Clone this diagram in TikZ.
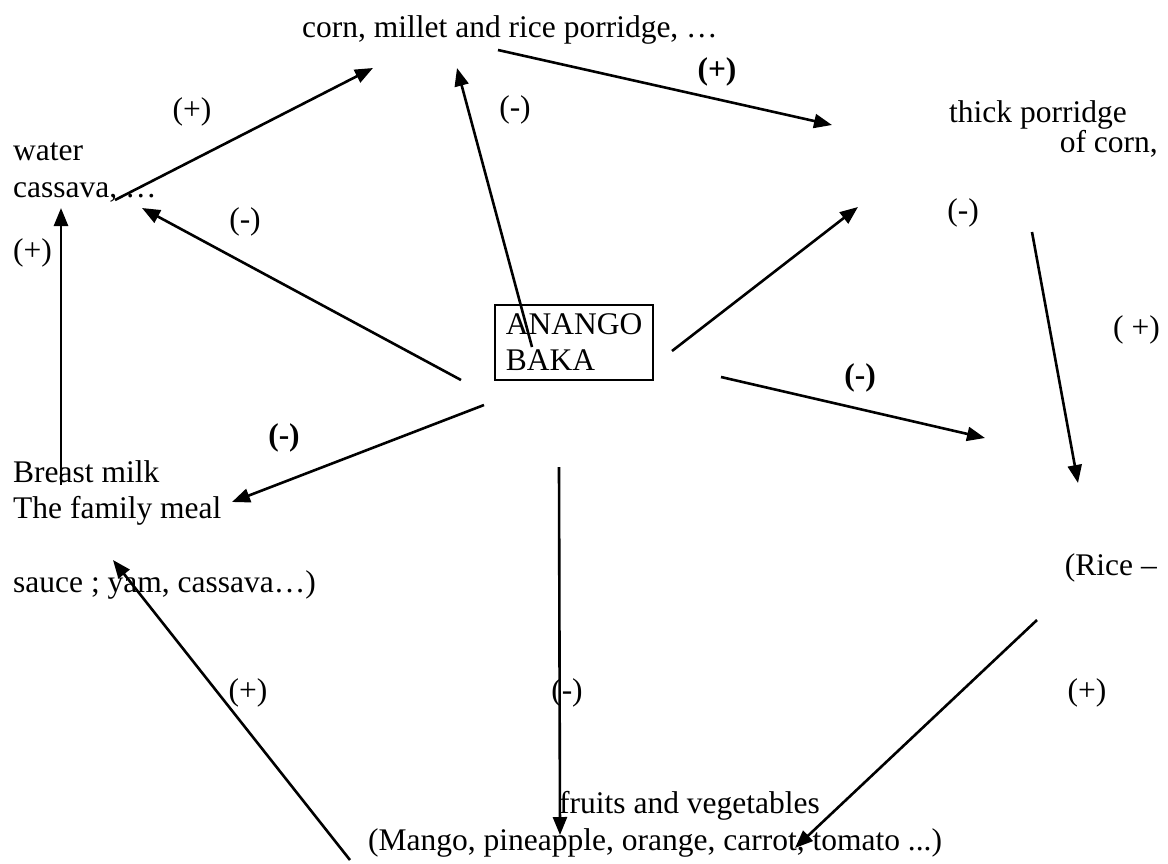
\documentclass[tikz,border=0pt]{standalone}
\usepackage{fontspec}
\setmainfont{Liberation Serif}
\usetikzlibrary{arrows.meta}

\begin{document}
\begin{tikzpicture}[x=1pt,y=-1pt,
    every node/.style={inner sep=0pt,font=\fontsize{31.5}{36}\selectfont},
    txt/.style={anchor=base west},
    txtr/.style={anchor=base east},
    sgnb/.style={font=\fontsize{31.5}{36}\selectfont\bfseries},
    arr/.style={line width=2.6pt,-{Triangle[length=18pt,width=14pt]}}]
       \useasboundingbox(0,0)rectangle(1168,863);%枠

       \node[txt](corn)at(302,37){corn, millet and rice porridge, …};%上
       \node[txt](water)at(13,160){water};
       \node[txt](cassava)at(13,197){cassava, …};
       \node[txt](thick)at(949,122){thick porridge};
       \node[txtr](ofcorn)at(1158,152){of corn,};
       \node[txt](breast)at(13,482){Breast milk};
       \node[txt](family)at(13,518){The family meal};
       \node[txtr](rice)at(1157,575){(Rice –};
       \node[txt](sauce)at(13,592){sauce ; yam, cassava…)};
       \node[txt](fruits)at(559,813){fruits and vegetables};
       \node[txt](mango)at(368,850){(Mango, pineapple, orange, carrot, tomato ...)};%下

       \node[draw,line width=1.8pt,align=left,anchor=north west,
           inner xsep=11pt,inner ysep=9pt](baka)at(494,304){ANANGO\\BAKA};%中央

       \node(s1)at(192,112){(+)};
       \node(s2)at(515,110){(-)};
       \node[sgnb](s3)at(717,72){(+)};
       \node(s4)at(245,222){(-)};
       \node(s5)at(963,213){(-)};
       \node[anchor=west](s6)at(13,253){(+)};
       \node[anchor=east](s7)at(1160,330){( +)};
       \node[sgnb](s8)at(284,438){(-)};
       \node[sgnb](s9)at(860,378){(-)};
       \node(s10)at(248,693){(+)};
       \node(s11)at(567,693){(-)};
       \node(s12)at(1087,693){(+)};

       \coordinate(a1)at(115,200);\coordinate(b1)at(373,68);%cassava→corn
       \coordinate(a2)at(498,50);\coordinate(b2)at(832,125);%corn→thick
       \coordinate(a3)at(532,347);\coordinate(b3)at(457,68);
       \coordinate(a4)at(461,380);\coordinate(b4)at(142,208);
       \coordinate(a5)at(61,485);\coordinate(b5)at(61,208);%milk→cassava
       \coordinate(a6)at(672,351);\coordinate(b6)at(858,207);
       \coordinate(a7)at(1032,232);\coordinate(b7)at(1078,483);%thick→rice
       \coordinate(a8)at(721,377);\coordinate(b8)at(985,438);
       \coordinate(a9)at(484,405);\coordinate(b9)at(232,502);
       \coordinate(a10)at(559,467);\coordinate(b10)at(560,835);
       \coordinate(a11)at(1037,620);\coordinate(b11)at(795,848);%rice→fruits
       \coordinate(a12)at(350,860);\coordinate(b12)at(113,560);%fruits→meal

       \foreach \t in{1,...,12}
           \draw[arr](a\t)--(b\t);%矢印

      \end{tikzpicture}
\end{document}
